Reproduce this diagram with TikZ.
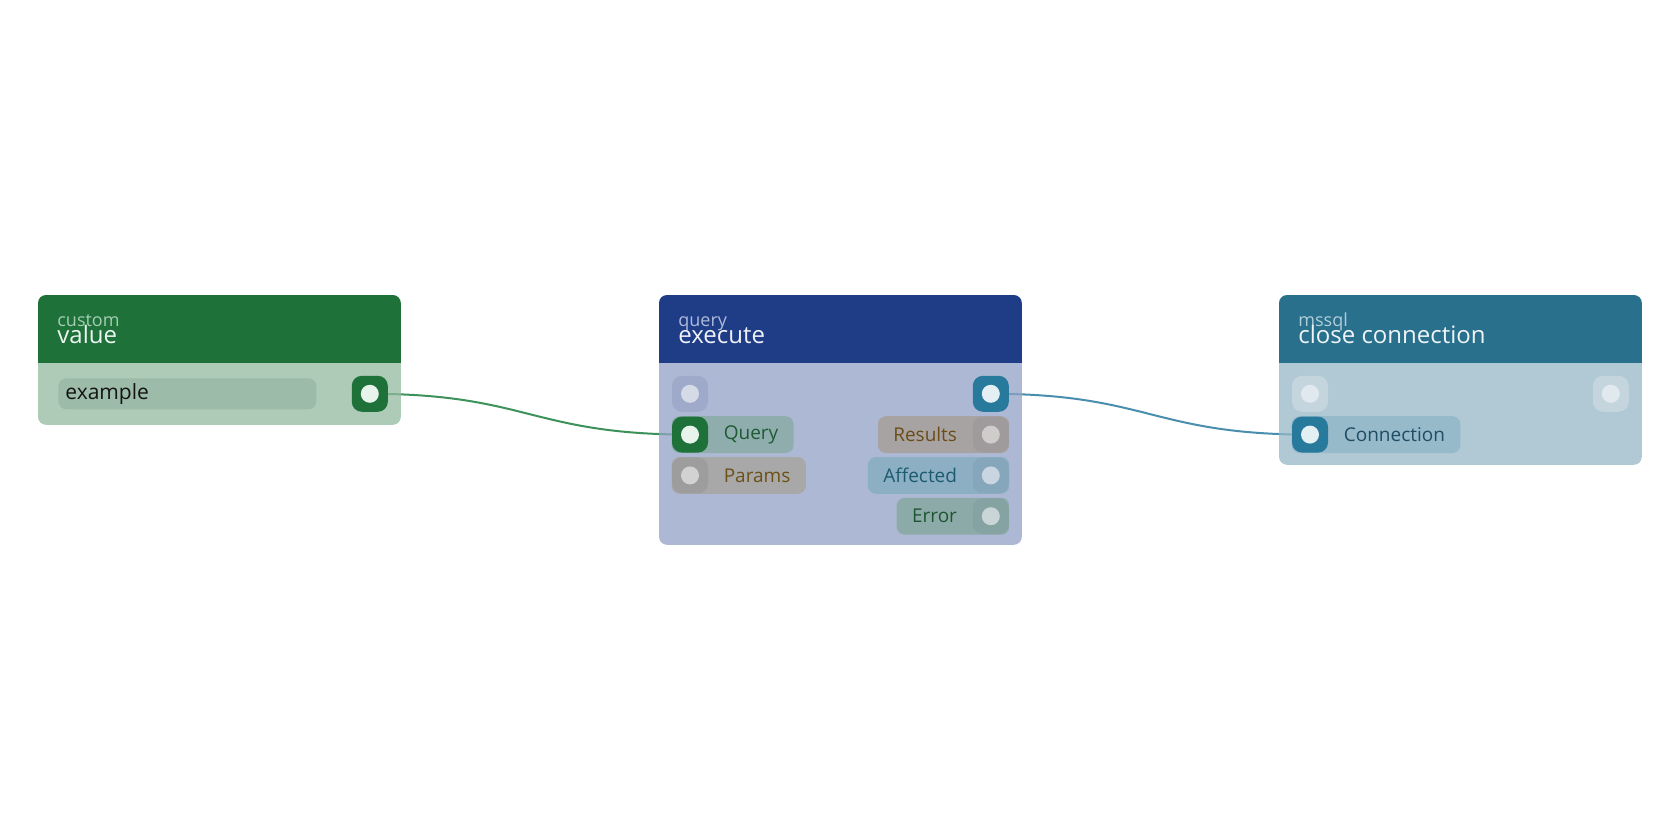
\documentclass[tikz,border=0pt]{standalone}
\usepackage{fontspec}
\setmainfont{Open Sans}
\usetikzlibrary{positioning, fit, backgrounds, calc}
\definecolor{valuehead}{HTML}{1D7139}
\definecolor{valuekind}{HTML}{A6CDB3}
\definecolor{valuetitle}{HTML}{EEF6F1}
\definecolor{valuebody}{HTML}{92BA9E}
\definecolor{valuefield}{HTML}{9CBBA8}
\definecolor{valuedot}{HTML}{E8F3EB}
\definecolor{valuelink}{HTML}{3D915A}
\definecolor{queryhead}{HTML}{1F3D87}
\definecolor{querykind}{HTML}{AEBADA}
\definecolor{querytitle}{HTML}{EEF1F8}
\definecolor{querybody}{HTML}{92A2C6}
\definecolor{queryfaint}{HTML}{9FAACA}
\definecolor{queryfaintdot}{HTML}{D5DAE7}
\definecolor{querypill}{HTML}{8FADAD}
\definecolor{querytext}{HTML}{1E5B33}
\definecolor{paramspill}{HTML}{A8A8A8}
\definecolor{paramsport}{HTML}{9D9D9E}
\definecolor{paramsdot}{HTML}{D2D2D2}
\definecolor{paramstext}{HTML}{6B5116}
\definecolor{resultspill}{HTML}{A8A3A3}
\definecolor{resultsport}{HTML}{9F9B9C}
\definecolor{resultsdot}{HTML}{CFCCCC}
\definecolor{resultstext}{HTML}{6B4C17}
\definecolor{affectedpill}{HTML}{8DAFC4}
\definecolor{affectedport}{HTML}{86A6BB}
\definecolor{affecteddot}{HTML}{C9D5E0}
\definecolor{affectedtext}{HTML}{1C5B6F}
\definecolor{errorpill}{HTML}{8CABA8}
\definecolor{errorport}{HTML}{86A3A4}
\definecolor{errordot}{HTML}{C9D5D6}
\definecolor{errortext}{HTML}{1F5530}
\definecolor{mssqlhead}{HTML}{28708C}
\definecolor{mssqlkind}{HTML}{B2CEDA}
\definecolor{mssqltitle}{HTML}{EEF4F7}
\definecolor{mssqlbody}{HTML}{96B7C6}
\definecolor{mssqlfaint}{HTML}{C4D5DE}
\definecolor{mssqlfaintdot}{HTML}{E1E9EE}
\definecolor{mssqlport}{HTML}{287A9C}
\definecolor{mssqldot}{HTML}{E4EFF4}
\definecolor{connpill}{HTML}{97BACB}
\definecolor{conntext}{HTML}{1F4D62}
\definecolor{mssqllink}{HTML}{4A8EAE}

\begin{document}
\begin{tikzpicture}[
    x=0.5pt, y=-0.5pt,
    header/.style={minimum width=181pt, minimum height=33.5pt, anchor=north west, inner sep=0},
    headfill/.style={fill=#1},
    cardkind/.style={anchor=base west, inner sep=0, font=\fontsize{9}{10}\selectfont, text=#1},
    cardtitle/.style={anchor=base west, inner sep=0, font=\fontsize{12}{13}\selectfont, text=#1},
    port/.style 2 args={fill=#1, rounded corners=5pt, minimum size=18pt, inner sep=0,
        path picture={\fill[#2] (path picture bounding box.center) circle (4.5pt);}},
    pintext/.style={font=\fontsize{9.5}{11}\selectfont, text=#1, inner xsep=7.5pt, inner ysep=0, minimum height=18pt},
    pill/.style={fill=#1, rounded corners=4pt, inner sep=0},
    field/.style={fill=valuefield, rounded corners=4pt, minimum height=15.5pt, text width=122pt, align=left,
        inner xsep=3.5pt, inner ysep=0, font=\fontsize{10.5}{12}\selectfont, text=black!92},
    body/.style={fill=#1, fill opacity=0.75, rounded corners=4pt},
    link/.style={draw=#1, line width=1pt}
]
    \useasboundingbox (0,0) rectangle (1680,840);

    % custom / value
    \node[header] (valhead) at (38,295) {};
    \fill[headfill=valuehead] (valhead.south west) [rounded corners=4pt] -- (valhead.north west)
        -- (valhead.north east) [sharp corners] -- (valhead.south east) -- cycle;
    \node[cardkind=valuekind] (valkind) at ($(valhead.north west)+(19,31)$) {custom};
    \node[cardtitle=valuetitle] (valtitle) at ($(valhead.north west)+(19,48)$) {value};
    \node[port={valuehead}{valuedot}] (valout) at ($(valhead.south east)+(-31,31)$) {};
    \node[field, anchor=west] (valfield) at ($(valhead.south west)+(20,31)$) {example};

    % query / execute
    \node[header] (qhead) at (659,295) {};
    \fill[headfill=queryhead] (qhead.south west) [rounded corners=4pt] -- (qhead.north west)
        -- (qhead.north east) [sharp corners] -- (qhead.south east) -- cycle;
    \node[cardkind=querykind] (qkind) at ($(qhead.north west)+(19,31)$) {query};
    \node[cardtitle=querytitle] (qtitle) at ($(qhead.north west)+(19,48)$) {execute};
    \node[port={queryfaint}{queryfaintdot}] (qexec) at ($(qhead.south west)+(31,31)$) {};
    \node[port={valuehead}{valuedot}, below=2pt of qexec] (qquery) {};
    \node[port={paramsport}{paramsdot}, below=2pt of qquery] (qparams) {};
    \node[port={mssqlport}{mssqldot}] (qnext) at ($(qhead.south east)+(-31,31)$) {};
    \node[port={resultsport}{resultsdot}, below=2pt of qnext] (qresults) {};
    \node[port={affectedport}{affecteddot}, below=2pt of qresults] (qaffected) {};
    \node[port={errorport}{errordot}, below=2pt of qaffected] (qerror) {};
    \node[pintext=querytext, right=0pt of qquery] (qquerytext) {Query};
    \node[pintext=paramstext, right=0pt of qparams] (qparamstext) {Params};
    \node[pintext=resultstext, left=0pt of qresults] (qresultstext) {Results};
    \node[pintext=affectedtext, left=0pt of qaffected] (qaffectedtext) {Affected};
    \node[pintext=errortext, left=0pt of qerror] (qerrortext) {Error};

    % mssql / close connection
    \node[header] (mhead) at (1279,295) {};
    \fill[headfill=mssqlhead] (mhead.south west) [rounded corners=4pt] -- (mhead.north west)
        -- (mhead.north east) [sharp corners] -- (mhead.south east) -- cycle;
    \node[cardkind=mssqlkind] (mkind) at ($(mhead.north west)+(19,31)$) {mssql};
    \node[cardtitle=mssqltitle] (mtitle) at ($(mhead.north west)+(19,48)$) {close connection};
    \node[port={mssqlfaint}{mssqlfaintdot}] (mexec) at ($(mhead.south west)+(31,31)$) {};
    \node[port={mssqlfaint}{mssqlfaintdot}] (mnext) at ($(mhead.south east)+(-31,31)$) {};
    \node[port={mssqlport}{mssqldot}, below=2pt of mexec] (mconn) {};
    \node[pintext=conntext, right=0pt of mconn] (mconntext) {Connection};

    \begin{scope}[on background layer]
        \fill[white] (0,0) rectangle (1680,840);
        % links
        \draw[link=valuelink] (valout.center) to[out=0, in=180, looseness=1.25] (qquery.center);
        \draw[link=mssqllink] (qnext.center) to[out=0, in=180, looseness=1.25] (mconn.center);
        % card bodies
        \path[body=valuebody] ($(valhead.south west)+(0,-20)$) rectangle ($(valhead.south east)+(0,62)$);
        \path[body=querybody] ($(qhead.south west)+(0,-20)$) rectangle ($(qhead.south east)+(0,182)$);
        \path[body=mssqlbody] ($(mhead.south west)+(0,-20)$) rectangle ($(mhead.south east)+(0,102)$);
        % pins
        \node[pill=querypill, fit=(qquery)(qquerytext)] {};
        \node[pill=paramspill, fit=(qparams)(qparamstext)] {};
        \node[pill=resultspill, fit=(qresults)(qresultstext)] {};
        \node[pill=affectedpill, fit=(qaffected)(qaffectedtext)] {};
        \node[pill=errorpill, fit=(qerror)(qerrortext)] {};
        \node[pill=connpill, fit=(mconn)(mconntext)] {};
    \end{scope}
\end{tikzpicture}
\end{document}
